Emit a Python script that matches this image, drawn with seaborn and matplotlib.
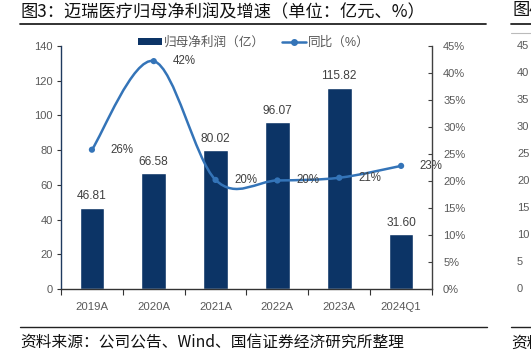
import numpy as np
import matplotlib
matplotlib.use("Agg")
import matplotlib.pyplot as plt
from matplotlib.path import Path
from matplotlib.patches import PathPatch, Patch
from matplotlib.lines import Line2D
import seaborn as sns
import pandas as pd

# chart data
periods = ["2019A", "2020A", "2021A", "2022A", "2023A", "2024Q1"]
net_profit = [46.81, 66.58, 80.02, 96.07, 115.82, 31.60]       # 亿元
yoy_growth = [25.8, 42.2, 20.2, 20.1, 20.6, 22.8]               # %
left_ticks = [0, 20, 40, 60, 80, 100, 120, 140]
right_ticks = [0, 5, 10, 15, 20, 25, 30, 35, 40, 45]

BAR_COLOR = "#0c3466"
LINE_COLOR = "#3474b8"
TICK_COLOR = "#595959"
LABEL_COLOR = "#404040"
CJK = ["Noto Sans CJK SC", "DejaVu Sans"]

sns.set_style("white")
plt.rcParams["font.family"] = ["Liberation Sans", "Noto Sans CJK SC", "DejaVu Sans"]


def smooth_path(xs, ys):
    """Excel-style smoothed line: cubic bezier segments through every point."""
    pts = np.column_stack([xs, ys]).astype(float)
    n = len(pts)
    verts = [pts[0]]
    codes = [Path.MOVETO]
    for i in range(n - 1):
        p_prev = pts[i - 1] if i > 0 else pts[i]
        p_next2 = pts[i + 2] if i + 2 < n else pts[i + 1]
        c1 = pts[i] + (pts[i + 1] - p_prev) / 6
        c2 = pts[i + 1] - (p_next2 - pts[i]) / 6
        verts += [c1, c2, pts[i + 1]]
        codes += [Path.CURVE4] * 3
    return Path(verts, codes)


df = pd.DataFrame({"period": periods, "profit": net_profit, "yoy": yoy_growth})

fig = plt.figure(figsize=(5.31, 3.53), dpi=100)
ax = fig.add_axes([61 / 531, 1 - 289 / 353, 371 / 531, 243 / 353])

sns.barplot(data=df, x="period", y="profit", color=BAR_COLOR, width=0.4,
            saturation=1, ax=ax)
ax.set_ylim(0, 140)
ax.set_xlim(-0.5, len(periods) - 0.5)
ax.set_yticks(left_ticks)
ax.set_xlabel("")
ax.set_ylabel("")
for i, v in enumerate(net_profit):
    ax.annotate(f"{v:.2f}", (i, v), xytext=(0, 4), textcoords="offset points",
                ha="center", va="bottom", fontsize=8.6, color=LABEL_COLOR)

ax2 = ax.twinx()
ax2.set_ylim(0, 45)
xs = np.arange(len(periods))
ax2.add_patch(PathPatch(smooth_path(xs, yoy_growth), facecolor="none",
                        edgecolor=LINE_COLOR, lw=1.8))
sns.scatterplot(x=xs, y=yoy_growth, color=LINE_COLOR, s=20, edgecolor="none",
                ax=ax2, zorder=3)
ax2.set_yticks(right_ticks)
ax2.set_yticklabels([f"{t}%" for t in right_ticks])
for i, v in enumerate(yoy_growth):
    ax2.annotate(f"{round(v)}%", (i, v), xytext=(13.5, 0), textcoords="offset points",
                 ha="left", va="center", fontsize=8.3, color=LABEL_COLOR)

# axes styling
for a in (ax, ax2):
    for s in a.spines.values():
        s.set_visible(False)
ax.spines["left"].set_visible(True)
ax.spines["left"].set_color("#1f3a5f")
ax.spines["bottom"].set_visible(True)
ax.spines["bottom"].set_color("#333333")
ax2.spines["right"].set_visible(True)
ax2.spines["right"].set_color("#404040")
for s in (ax.spines["left"], ax.spines["bottom"], ax2.spines["right"]):
    s.set_linewidth(1.0)

ax.tick_params(axis="y", direction="out", length=3, width=0.8, colors="#333333",
               labelcolor=TICK_COLOR, labelsize=8, pad=3, left=True)
ax.set_xticks(np.arange(len(periods)))
ax.set_xticklabels(periods)
ax.tick_params(axis="x", length=0, labelcolor=TICK_COLOR, labelsize=8.2, pad=9)
ax.set_xticks(np.arange(len(periods) + 1) - 0.5, minor=True)
ax.tick_params(axis="x", which="minor", direction="out", length=4, width=0.8,
               colors="#333333", bottom=True)
ax2.tick_params(axis="y", direction="in", length=3, width=0.8, colors="#404040",
                labelcolor=TICK_COLOR, labelsize=8, pad=8, right=True)
ax.grid(False)
ax2.grid(False)

handles = [Patch(facecolor=BAR_COLOR, edgecolor="none", label="归母净利润（亿）"),
           Line2D([0], [0], color=LINE_COLOR, lw=1.8, marker="o", markersize=4,
                  label="同比（%）")]
ax.legend(handles=handles, loc="center", bbox_to_anchor=(0.52, 1.012), ncol=2,
          frameon=False, handlelength=1.9, handleheight=0.45,
          handletextpad=0.15, columnspacing=1.4, labelcolor=TICK_COLOR,
          borderpad=0, prop={"family": ["Liberation Sans"] + CJK, "size": 9.1})

# title, source and rules
fig.text(20 / 531, 1 - 12 / 353, "图3：迈瑞医疗归母净利润及增速（单位：亿元、%）",
         fontsize=12.4, va="center", ha="left", color="#111111", family=CJK)
fig.add_artist(Line2D([20 / 531, 486 / 531], [1 - 24 / 353] * 2, color="#222222", lw=1.3))
fig.add_artist(Line2D([20 / 531, 487 / 531], [1 - 327 / 353] * 2, color="#222222", lw=1.0))
fig.text(20 / 531, 1 - 343 / 353, "资料来源：公司公告、Wind、国信证券经济研究所整理",
         fontsize=11.3, va="center", ha="left", color="#111111", family=CJK)

# neighbouring chart edge visible on the right
fig.text(512 / 531, 1 - 10 / 353, "图4", fontsize=12.4, va="center", ha="left",
         color="#111111", family=CJK)
fig.add_artist(Line2D([511 / 531, 1], [1 - 24 / 353] * 2, color="#222222", lw=1.3))
fig.add_artist(Line2D([511 / 531, 1], [1 - 33 / 353] * 2, color="#bbbbbb", lw=0.8))
fig.add_artist(Line2D([511 / 531, 1], [1 - 327 / 353] * 2, color="#222222", lw=1.0))
fig.text(511 / 531, 1 - 343 / 353, "资料", fontsize=11.3, va="center", ha="left",
         color="#111111", family=CJK)
for t in right_ticks:
    y = 1 - (289 - t / 45 * 243) / 353
    fig.text(517 / 531, y, str(t), fontsize=8, va="center", ha="left", color=TICK_COLOR)

fig.savefig("out.png", dpi=100)
